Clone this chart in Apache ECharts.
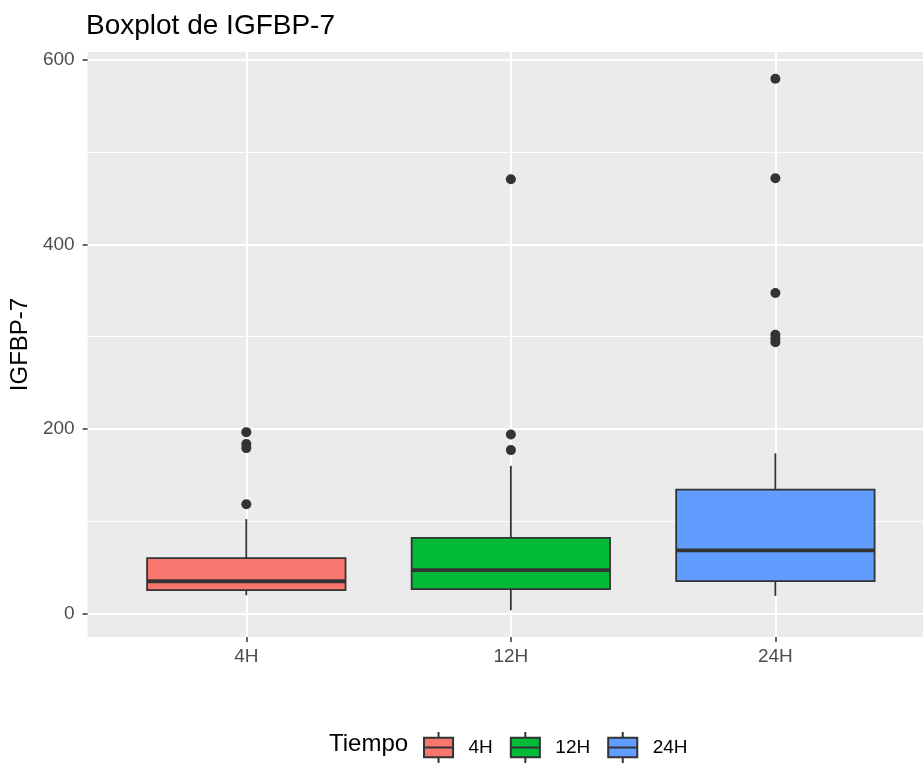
<!DOCTYPE html>
<html>
<head>
<meta charset="utf-8">
<script src="https://cdn.jsdelivr.net/npm/echarts@6/dist/echarts.min.js"></script>
<style>html,body{margin:0;padding:0;background:#fff;}#c{width:923px;height:764px;}</style>
</head>
<body>
<div id="c"></div>
<script>
// ---- data ----
const categories = ['4H', '12H', '24H'];
const colors = ['#F8766D', '#00BA38', '#619CFF'];
// [lower whisker, Q1, median, Q3, upper whisker]
const stats4H  = [19.8, 25.3, 35.0, 60.0, 102.3];
const stats12H = [3.6, 26.4, 47.0, 82.0, 160.1];
const stats24H = [19.2, 35.2, 68.5, 134.4, 173.6];
const outliers4H  = [196.6, 183.6, 179.3, 118.5];
const outliers12H = [470.7, 194.1, 177.1];
const outliers24H = [579.6, 471.7, 347.4, 302.1, 298.0, 294.0];
const yMajorTicks = [0, 200, 400, 600];
const yMinorTicks = [100, 300, 500];

const statsList = [stats4H, stats12H, stats24H];
const outlierList = [outliers4H, outliers12H, outliers24H];
const FONT = '"Liberation Sans", Arial, sans-serif';

function renderBox(params, api) {
  const x = api.value(0);
  const lo = api.coord([x, api.value(1)]);
  const q1 = api.coord([x, api.value(2)]);
  const med = api.coord([x, api.value(3)]);
  const q3 = api.coord([x, api.value(4)]);
  const hi = api.coord([x, api.value(5)]);
  const bw = api.size([1, 0])[0] * 0.75;
  const cx = lo[0];
  const line = {stroke: '#333333', lineWidth: 1.8};
  return {
    type: 'group',
    children: [
      {type: 'line', shape: {x1: cx, y1: hi[1], x2: cx, y2: q3[1]}, style: line},
      {type: 'line', shape: {x1: cx, y1: q1[1], x2: cx, y2: lo[1]}, style: line},
      {type: 'rect', shape: {x: cx - bw / 2, y: q3[1], width: bw, height: q1[1] - q3[1]},
        style: {fill: api.visual('color'), stroke: '#333333', lineWidth: 1.8}},
      {type: 'line', shape: {x1: cx - bw / 2, y1: med[1], x2: cx + bw / 2, y2: med[1]},
        style: {stroke: '#333333', lineWidth: 3.8}}
    ]
  };
}

const series = [];
categories.forEach((name, i) => {
  series.push({
    name: name,
    type: 'custom',
    renderItem: renderBox,
    itemStyle: {color: colors[i]},
    encode: {x: 0, y: [1, 2, 3, 4, 5]},
    data: [[i + 1].concat(statsList[i])],
    z: 3
  });
});
series.push({
  type: 'scatter',
  name: 'outliers',
  symbol: 'circle',
  symbolSize: 10,
  itemStyle: {color: '#333333', opacity: 1},
  data: outlierList.flatMap((arr, i) => arr.map(v => [i + 1, v])),
  z: 4
});

const chart = echarts.init(document.getElementById('c'));
chart.setOption({
  backgroundColor: '#ffffff',
  animation: false,
  title: [
    {text: 'Boxplot de IGFBP-7', left: 81, top: 7,
      textStyle: {fontFamily: FONT, fontSize: 28, fontWeight: 'normal', color: '#000'}},
    {text: 'Tiempo', left: 324, top: 727,
      textStyle: {fontFamily: FONT, fontSize: 24, fontWeight: 'normal', color: '#000'}}
  ],
  legend: {
    data: categories,
    left: 418, top: 726,
    itemWidth: 30, itemHeight: 31, itemGap: 17,
    icon: 'path://M0,6H30V26H0ZM0,16H30M15,0V6M15,26V32',
    itemStyle: {borderColor: '#333333', borderWidth: 2},
    textStyle: {fontFamily: FONT, fontSize: 19, color: '#000', padding: [0, 0, 0, 10]}
  },
  grid: {
    left: 86, right: 0, top: 52, bottom: 127,
    show: true, backgroundColor: '#EBEBEB', borderWidth: 0
  },
  xAxis: {
    type: 'value', min: 0.4, max: 3.558,
    axisLine: {show: false, onZero: false},
    axisTick: {show: true, customValues: [1, 2, 3], length: 5, lineStyle: {color: '#333333', width: 1.5}},
    axisLabel: {customValues: [1, 2, 3], formatter: v => categories[Math.round(v) - 1] || '',
      fontFamily: FONT, fontSize: 19, color: '#4D4D4D', margin: 10},
    splitLine: {show: true, lineStyle: {color: '#ffffff', width: 2}}
  },
  yAxis: [
    {
      type: 'value', min: -25.4, max: 608.5,
      name: 'IGFBP-7', nameLocation: 'middle', nameGap: 50,
      nameTextStyle: {fontFamily: FONT, fontSize: 24, color: '#000'},
      axisLine: {show: false, onZero: false},
      axisTick: {show: true, customValues: yMajorTicks, length: 5, lineStyle: {color: '#333333', width: 1.5}},
      axisLabel: {customValues: yMajorTicks, fontFamily: FONT, fontSize: 19, color: '#4D4D4D', margin: 13},
      splitLine: {show: true, lineStyle: {color: '#ffffff', width: 2}}
    },
    {
      type: 'value', min: -25.4, max: 608.5, position: 'right',
      axisLine: {show: false, onZero: false},
      axisTick: {show: false, customValues: yMinorTicks},
      axisLabel: {show: false, customValues: yMinorTicks},
      splitLine: {show: true, lineStyle: {color: '#ffffff', width: 1}}
    }
  ],
  series: series
});
</script>
</body>
</html>
